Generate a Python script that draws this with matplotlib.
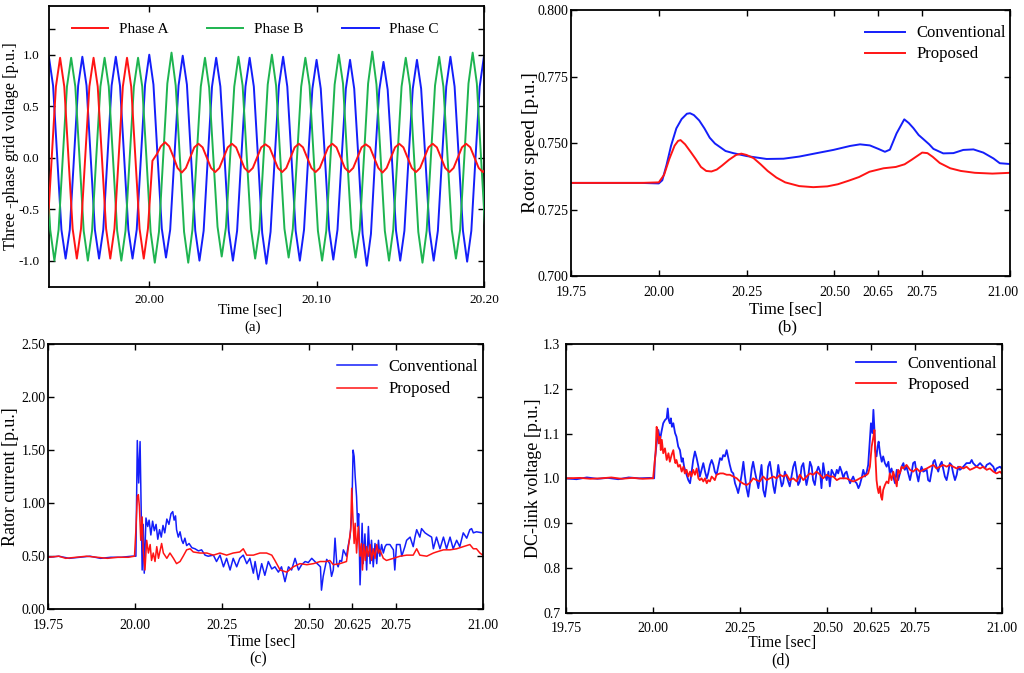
import numpy as np
import matplotlib
matplotlib.use("Agg")
import matplotlib.pyplot as plt
import matplotlib.transforms as mtransforms

plt.rcParams['font.family'] = ['Liberation Serif', 'DejaVu Serif']

# ---------------- (a) three-phase grid voltage, sampled every 2.5 ms ----------------
step_a = 0.0025
phase_a_pre_t0 = 19.9391
phase_a_pre = [-0.69, 0, 0.69, 0.97, 0.69, 0, -0.69, -0.98,
               -0.69, 0, 0.69, 0.97, 0.69, 0, -0.69, -0.98,
               -0.69, 0, 0.69, 0.97, 0.69, 0, -0.69, -0.98, -0.69]
phase_a_post_t0 = 20.0018
phase_a_post = [-0.03, 0.03, 0.11, 0.15, 0.11, 0.01, -0.10, -0.145,
                -0.10, 0, 0.10, 0.135, 0.10, 0, -0.10, -0.14,
                -0.10, 0, 0.10, 0.135, 0.10, 0, -0.10, -0.14,
                -0.10, 0, 0.10, 0.13, 0.10, 0, -0.10, -0.14,
                -0.10, 0, 0.10, 0.135, 0.10, 0, -0.10, -0.14,
                -0.10, 0, 0.10, 0.135, 0.10, 0, -0.10, -0.14,
                -0.10, 0, 0.10, 0.13, 0.10, 0, -0.10, -0.145,
                -0.10, 0, 0.10, 0.135, 0.10, 0, -0.10, -0.14,
                -0.10, 0, 0.10, 0.135, 0.10, 0, -0.10, -0.14,
                -0.10, 0, 0.10, 0.135, 0.10, 0, -0.10, -0.14,
                -0.10]
phase_b_t0 = 19.9382
phase_b = [0, -0.70, -1.00, -0.70, 0, 0.69, 0.97, 0.69,
           0, -0.71, -1.00, -0.71, 0, 0.69, 0.97, 0.69,
           0, -0.71, -1.00, -0.71, 0, 0.69, 0.97, 0.69,
           0, -0.72, -1.02, -0.72, 0, 0.72, 1.02, 0.70,
           0, -0.72, -1.02, -0.70, 0, 0.69, 0.97, 0.68,
           0, -0.67, -0.96, -0.68, 0, 0.69, 0.98, 0.70,
           0, -0.69, -0.98, -0.70, 0, 0.71, 1.00, 0.70,
           0, -0.69, -0.97, -0.69, 0, 0.69, 0.97, 0.70,
           0, -0.71, -1.00, -0.71, 0, 0.71, 1.00, 0.72,
           0, -0.69, -0.97, -0.70, 0, 0.72, 1.03, 0.71,
           0, -0.71, -1.00, -0.70, 0, 0.69, 0.97, 0.70,
           0, -0.72, -1.02, -0.71, 0, 0.70, 0.98, 0.69,
           0, -0.70, -0.98, -0.70, 0, 0.72, 1.02, 0.72,
           0, -0.70]
phase_c_t0 = 19.9374
phase_c = [0.70, 0.98, 0.70, 0, -0.70, -0.98, -0.70, 0,
           0.70, 0.98, 0.70, 0, -0.70, -0.98, -0.70, 0,
           0.70, 0.98, 0.70, 0, -0.70, -0.98, -0.70, 0,
           0.71, 1.00, 0.71, 0, -0.69, -0.97, -0.70, 0,
           0.70, 0.99, 0.71, 0, -0.71, -1.00, -0.71, 0,
           0.69, 0.97, 0.69, 0, -0.71, -1.00, -0.71, 0,
           0.69, 0.97, 0.69, 0, -0.73, -1.03, -0.72, 0,
           0.70, 0.98, 0.69, 0, -0.71, -1.00, -0.70, 0,
           0.67, 0.95, 0.67, 0, -0.70, -0.99, -0.70, 0,
           0.67, 0.95, 0.67, 0, -0.74, -1.05, -0.74, 0,
           0.66, 0.93, 0.66, 0, -0.71, -1.00, -0.71, 0,
           0.67, 0.95, 0.67, 0, -0.71, -1.00, -0.71, 0,
           0.69, 0.98, 0.69, 0, -0.71, -1.01, -0.71, 0,
           0.69, 0.98, 0.69]

# ---------------- (b) rotor speed ----------------
speed_conv_t = [19.75, 19.85, 19.95, 20.0, 20.01, 20.022, 20.035, 20.05, 20.065, 20.08, 20.089,
                20.10, 20.115, 20.13, 20.145, 20.16, 20.174, 20.19, 20.212, 20.25, 20.307,
                20.355, 20.40, 20.45, 20.497, 20.545, 20.573, 20.601, 20.625, 20.644, 20.658,
                20.677, 20.699, 20.712, 20.725, 20.74, 20.753, 20.77, 20.782, 20.81, 20.839,
                20.867, 20.896, 20.924, 20.953, 20.971, 21.0]
speed_conv = [0.735, 0.735, 0.735, 0.7348, 0.736, 0.7417, 0.749, 0.7555, 0.759, 0.761, 0.7612,
              0.7605, 0.7585, 0.7555, 0.752, 0.7498, 0.7485, 0.747, 0.7462, 0.7451, 0.744,
              0.7441, 0.7449, 0.7462, 0.7474, 0.7489, 0.7495, 0.7491, 0.7478, 0.7467, 0.7475,
              0.7536, 0.7589, 0.7575, 0.7556, 0.7530, 0.7515, 0.7495, 0.7478, 0.7461, 0.7462,
              0.7474, 0.7476, 0.7464, 0.7442, 0.7424, 0.7421]
speed_prop_t = [19.75, 19.85, 19.95, 20.0, 20.015, 20.03, 20.045, 20.055, 20.062, 20.075, 20.09,
                20.105, 20.12, 20.135, 20.15, 20.165, 20.18, 20.20, 20.22, 20.235, 20.25,
                20.27, 20.29, 20.31, 20.335, 20.36, 20.40, 20.44, 20.48, 20.51, 20.54, 20.57,
                20.60, 20.64, 20.675, 20.70, 20.72, 20.75, 20.765, 20.78, 20.80, 20.83, 20.86,
                20.90, 20.95, 21.0]
speed_prop = [0.735, 0.735, 0.735, 0.7352, 0.738, 0.7440, 0.7490, 0.7508, 0.7511, 0.7495, 0.7468,
              0.7440, 0.7410, 0.7395, 0.7393, 0.7400, 0.7415, 0.7437, 0.7455, 0.7460, 0.7455,
              0.7443, 0.7420, 0.7395, 0.7370, 0.7352, 0.7338, 0.7334, 0.7337, 0.7345, 0.7358, 0.7372,
              0.7392, 0.7405, 0.7410, 0.7420, 0.7437, 0.7464, 0.7462, 0.7448, 0.7425, 0.7405, 0.7395,
              0.7388, 0.7385, 0.7388]

# ---------------- (c) rotor current ----------------
cur_conv_t = [19.75, 19.78, 19.81, 19.84, 19.87, 19.90, 19.93, 19.96, 19.99, 20.002,
              20.006, 20.010, 20.014, 20.017, 20.020, 20.023, 20.026, 20.031, 20.036, 20.040,
              20.045, 20.050, 20.055, 20.060, 20.065, 20.070, 20.075, 20.080, 20.085, 20.091,
              20.097, 20.103, 20.108, 20.112, 20.116, 20.119, 20.124, 20.129, 20.134, 20.138,
              20.143, 20.148, 20.155, 20.163, 20.172, 20.182, 20.191, 20.201, 20.210, 20.225,
              20.234, 20.244, 20.254, 20.263, 20.273, 20.282, 20.292, 20.301, 20.311, 20.321,
              20.330, 20.340, 20.345, 20.354, 20.364, 20.373, 20.383, 20.393, 20.402, 20.412,
              20.421, 20.431, 20.441, 20.450, 20.460, 20.470, 20.479, 20.489, 20.498, 20.508,
              20.517, 20.527, 20.533, 20.536, 20.541, 20.551, 20.560, 20.565, 20.570, 20.575,
              20.580, 20.584, 20.589, 20.594, 20.599, 20.608, 20.613, 20.618, 20.623, 20.627,
              20.630, 20.633, 20.637, 20.640, 20.643, 20.647, 20.650, 20.653, 20.656, 20.661,
              20.666, 20.671, 20.676, 20.680, 20.685, 20.690, 20.695, 20.700, 20.704, 20.709,
              20.714, 20.719, 20.723, 20.733, 20.743, 20.747, 20.752, 20.762, 20.767, 20.776,
              20.781, 20.791, 20.800, 20.805, 20.810, 20.819, 20.824, 20.834, 20.843, 20.853,
              20.858, 20.867, 20.877, 20.887, 20.896, 20.906, 20.915, 20.925, 20.934, 20.944,
              20.954, 20.963, 20.968, 20.973, 20.982, 21.0]
cur_conv = [0.49, 0.50, 0.48, 0.49, 0.50, 0.48, 0.49, 0.49, 0.50, 0.50,
            1.59, 1.19, 1.58, 1.00, 0.37, 0.80, 0.34, 0.86, 0.78, 0.84,
            0.70, 0.83, 0.74, 0.80, 0.66, 0.75, 0.68, 0.79, 0.72, 0.85,
            0.80, 0.90, 0.92, 0.84, 0.88, 0.75, 0.68, 0.73, 0.65, 0.62,
            0.67, 0.60, 0.62, 0.58, 0.57, 0.55, 0.56, 0.51, 0.50, 0.51,
            0.45, 0.51, 0.40, 0.48, 0.37, 0.48, 0.40, 0.48, 0.51, 0.43,
            0.48, 0.34, 0.45, 0.28, 0.43, 0.32, 0.45, 0.38, 0.40, 0.35,
            0.40, 0.26, 0.40, 0.37, 0.48, 0.37, 0.42, 0.45, 0.44, 0.48,
            0.45, 0.42, 0.40, 0.18, 0.31, 0.47, 0.43, 0.31, 0.37, 0.67,
            0.43, 0.40, 0.46, 0.45, 0.56, 0.50, 0.60, 0.68, 0.87, 1.50,
            1.44, 1.25, 1.06, 0.78, 0.90, 0.23, 0.50, 0.81, 0.43, 0.71,
            0.37, 0.78, 0.43, 0.65, 0.40, 0.62, 0.43, 0.65, 0.50, 0.61,
            0.53, 0.59, 0.61, 0.61, 0.56, 0.37, 0.61, 0.61, 0.50, 0.59,
            0.65, 0.68, 0.59, 0.68, 0.75, 0.68, 0.76, 0.72, 0.70, 0.68,
            0.57, 0.68, 0.57, 0.68, 0.57, 0.68, 0.57, 0.65, 0.59, 0.72,
            0.67, 0.75, 0.76, 0.72, 0.73, 0.72]
cur_prop_t = [19.75, 19.78, 19.80, 19.83, 19.86, 19.89, 19.92, 19.95, 19.98, 19.998,
              20.002, 20.006, 20.009, 20.012, 20.016, 20.020, 20.023, 20.028, 20.033, 20.038,
              20.043, 20.047, 20.052, 20.057, 20.062, 20.067, 20.076, 20.081, 20.091, 20.100,
              20.110, 20.119, 20.129, 20.138, 20.148, 20.158, 20.167, 20.186, 20.206, 20.225,
              20.244, 20.263, 20.282, 20.301, 20.311, 20.321, 20.340, 20.359, 20.378, 20.393,
              20.402, 20.417, 20.436, 20.455, 20.474, 20.494, 20.513, 20.532, 20.551, 20.560,
              20.570, 20.589, 20.608, 20.616, 20.620, 20.623, 20.626, 20.630, 20.633, 20.637,
              20.642, 20.647, 20.651, 20.654, 20.658, 20.662, 20.666, 20.671, 20.676, 20.680,
              20.685, 20.690, 20.695, 20.700, 20.704, 20.714, 20.723, 20.743, 20.762, 20.781,
              20.800, 20.810, 20.819, 20.839, 20.858, 20.867, 20.887, 20.906, 20.925, 20.944,
              20.963, 20.973, 20.982, 20.992, 21.0]
cur_prop = [0.49, 0.50, 0.48, 0.49, 0.50, 0.49, 0.48, 0.49, 0.49, 0.50,
            0.75, 1.06, 1.08, 0.97, 0.65, 0.87, 0.56, 0.37, 0.65, 0.53,
            0.61, 0.46, 0.53, 0.45, 0.59, 0.48, 0.62, 0.53, 0.48, 0.53,
            0.48, 0.43, 0.45, 0.50, 0.56, 0.57, 0.54, 0.53, 0.53, 0.51,
            0.53, 0.51, 0.53, 0.54, 0.57, 0.51, 0.51, 0.53, 0.53, 0.51,
            0.46, 0.37, 0.35, 0.40, 0.43, 0.42, 0.43, 0.45, 0.45, 0.46,
            0.42, 0.43, 0.45, 0.65, 0.75, 1.14, 0.90, 0.62, 0.81, 0.53,
            0.78, 0.50, 0.62, 0.37, 0.61, 0.46, 0.59, 0.50, 0.61, 0.46,
            0.57, 0.48, 0.61, 0.53, 0.56, 0.48, 0.46, 0.48, 0.50, 0.51,
            0.51, 0.57, 0.51, 0.50, 0.53, 0.54, 0.56, 0.56, 0.57, 0.59,
            0.61, 0.57, 0.57, 0.53, 0.51]

# ---------------- (d) DC-link voltage ----------------
dc_conv_t = [19.75, 19.78, 19.81, 19.84, 19.87, 19.90, 19.93, 19.96, 19.99, 20.003,
             20.005, 20.010, 20.015, 20.020, 20.024, 20.029, 20.034, 20.039, 20.042, 20.045,
             20.048, 20.051, 20.054, 20.058, 20.063, 20.067, 20.072, 20.077, 20.082, 20.085,
             20.089, 20.096, 20.101, 20.106, 20.110, 20.115, 20.120, 20.125, 20.130, 20.134,
             20.139, 20.144, 20.149, 20.154, 20.158, 20.163, 20.168, 20.173, 20.177, 20.182,
             20.187, 20.192, 20.197, 20.201, 20.206, 20.211, 20.216, 20.220, 20.225, 20.230,
             20.235, 20.240, 20.244, 20.249, 20.254, 20.259, 20.263, 20.268, 20.273, 20.278,
             20.283, 20.287, 20.292, 20.297, 20.302, 20.306, 20.311, 20.316, 20.321, 20.326,
             20.330, 20.335, 20.340, 20.345, 20.349, 20.354, 20.359, 20.364, 20.369, 20.373,
             20.378, 20.383, 20.392, 20.402, 20.407, 20.412, 20.416, 20.421, 20.426, 20.431,
             20.436, 20.440, 20.445, 20.450, 20.455, 20.459, 20.464, 20.469, 20.474, 20.479,
             20.483, 20.488, 20.493, 20.498, 20.503, 20.507, 20.512, 20.517, 20.522, 20.527,
             20.531, 20.536, 20.541, 20.546, 20.550, 20.555, 20.560, 20.565, 20.569, 20.574,
             20.579, 20.584, 20.589, 20.593, 20.598, 20.603, 20.608, 20.613, 20.617, 20.622,
             20.625, 20.629, 20.632, 20.635, 20.637, 20.641, 20.644, 20.647, 20.651, 20.656,
             20.660, 20.665, 20.670, 20.675, 20.679, 20.684, 20.689, 20.694, 20.699, 20.703,
             20.708, 20.713, 20.718, 20.722, 20.727, 20.732, 20.737, 20.742, 20.746, 20.751,
             20.756, 20.761, 20.765, 20.770, 20.775, 20.785, 20.789, 20.794, 20.799, 20.804,
             20.808, 20.813, 20.818, 20.823, 20.828, 20.832, 20.837, 20.842, 20.847, 20.851,
             20.856, 20.861, 20.866, 20.871, 20.875, 20.880, 20.885, 20.890, 20.899, 20.909,
             20.914, 20.918, 20.928, 20.933, 20.938, 20.947, 20.952, 20.957, 20.966, 20.976,
             20.981, 20.985, 20.995, 21.0]
dc_conv = [1.000, 0.998, 1.002, 0.999, 1.001, 0.998, 1.002, 1.000, 1.001, 1.000,
           1.040, 1.078, 1.108, 1.086, 1.104, 1.123, 1.130, 1.134, 1.156, 1.130,
           1.123, 1.134, 1.115, 1.123, 1.101, 1.093, 1.071, 1.063, 1.037, 1.045,
           1.026, 1.008, 0.996, 0.989, 1.011, 1.041, 1.060, 1.045, 1.026, 1.004,
           1.019, 1.034, 1.015, 1.000, 1.011, 1.030, 1.041, 1.030, 1.015, 1.008,
           1.026, 1.045, 1.041, 1.052, 1.049, 1.063, 1.045, 1.030, 1.015, 1.011,
           0.989, 0.978, 0.967, 0.985, 1.008, 1.037, 1.008, 0.978, 0.959, 0.989,
           1.022, 1.037, 1.015, 0.996, 0.978, 1.000, 1.030, 0.974, 0.959, 0.989,
           1.026, 1.037, 1.011, 0.982, 0.967, 0.996, 1.030, 1.004, 0.982, 0.989,
           1.015, 1.004, 0.982, 1.026, 1.037, 1.011, 0.985, 0.993, 1.026, 1.034,
           1.004, 0.985, 1.004, 1.037, 1.026, 0.996, 0.985, 1.015, 1.026, 1.015,
           0.978, 1.034, 1.008, 0.996, 1.015, 0.982, 1.019, 1.011, 1.004, 1.019,
           1.011, 1.026, 1.015, 1.000, 1.011, 1.015, 1.000, 0.989, 0.996, 1.004,
           0.993, 0.989, 0.978, 0.985, 1.000, 1.019, 1.004, 1.015, 1.030, 1.086,
           1.123, 1.101, 1.153, 1.108, 1.063, 1.049, 1.071, 1.082, 1.056, 1.037,
           1.049, 1.034, 1.026, 1.037, 1.011, 1.022, 1.004, 0.989, 1.019, 0.996,
           1.011, 1.026, 1.034, 1.019, 1.026, 1.011, 0.996, 1.015, 1.034, 1.037,
           1.011, 0.993, 1.011, 1.026, 1.015, 1.019, 0.996, 0.993, 1.015, 1.037,
           1.041, 1.026, 1.015, 1.030, 1.037, 1.022, 1.004, 0.996, 1.015, 1.034,
           1.030, 1.011, 0.996, 1.008, 1.026, 1.019, 1.022, 1.026, 1.034, 1.034,
           1.041, 1.034, 1.026, 1.030, 1.034, 1.026, 1.022, 1.030, 1.034, 1.026,
           1.015, 1.022, 1.026, 1.022]
dc_prop_t = [19.75, 19.79, 19.82, 19.85, 19.88, 19.91, 19.94, 19.97, 20.0, 20.007,
             20.010, 20.013, 20.016, 20.020, 20.022, 20.025, 20.029, 20.034, 20.039, 20.044,
             20.048, 20.053, 20.058, 20.061, 20.064, 20.067, 20.072, 20.077, 20.082, 20.087,
             20.091, 20.096, 20.101, 20.106, 20.110, 20.115, 20.120, 20.125, 20.130, 20.134,
             20.139, 20.144, 20.149, 20.154, 20.158, 20.163, 20.168, 20.173, 20.177, 20.182,
             20.192, 20.201, 20.211, 20.220, 20.230, 20.240, 20.249, 20.259, 20.268, 20.278,
             20.287, 20.297, 20.306, 20.316, 20.326, 20.335, 20.345, 20.354, 20.364, 20.373,
             20.383, 20.392, 20.402, 20.412, 20.421, 20.431, 20.440, 20.450, 20.459, 20.469,
             20.479, 20.488, 20.498, 20.507, 20.517, 20.527, 20.536, 20.546, 20.555, 20.565,
             20.574, 20.584, 20.593, 20.603, 20.613, 20.617, 20.622, 20.627, 20.632, 20.635,
             20.637, 20.641, 20.644, 20.647, 20.651, 20.654, 20.657, 20.660, 20.665, 20.670,
             20.675, 20.679, 20.684, 20.689, 20.694, 20.699, 20.703, 20.708, 20.713, 20.718,
             20.727, 20.737, 20.746, 20.756, 20.765, 20.775, 20.785, 20.794, 20.804, 20.813,
             20.823, 20.832, 20.842, 20.851, 20.861, 20.871, 20.880, 20.890, 20.899, 20.909,
             20.918, 20.928, 20.938, 20.947, 20.957, 20.966, 20.976, 20.985, 20.995, 21.0]
dc_prop = [1.000, 1.001, 0.999, 1.000, 1.002, 0.999, 1.001, 0.999, 1.000, 1.056,
           1.115, 1.108, 1.078, 1.093, 1.063, 1.086, 1.056, 1.067, 1.041, 1.056,
           1.037, 1.052, 1.063, 1.045, 1.034, 1.041, 1.026, 1.030, 1.015, 1.026,
           1.011, 1.019, 1.004, 1.015, 1.004, 1.019, 1.008, 1.022, 1.000, 0.996,
           1.000, 0.993, 1.000, 0.989, 0.996, 0.993, 1.004, 1.000, 0.996, 1.008,
           1.011, 1.011, 1.008, 1.008, 1.004, 1.000, 0.993, 0.988, 0.985, 0.990,
           1.000, 0.996, 0.993, 1.004, 0.996, 1.000, 1.004, 1.000, 1.008, 1.004,
           1.008, 0.996, 1.000, 0.993, 1.008, 0.996, 1.004, 1.011, 1.008, 1.015,
           1.008, 1.000, 1.008, 1.004, 1.004, 0.996, 1.000, 1.000, 1.000, 0.996,
           0.993, 0.996, 1.000, 1.004, 1.008, 1.011, 1.026, 1.071, 1.093, 1.108,
           1.063, 0.996, 0.978, 0.967, 0.982, 0.959, 0.952, 0.974, 0.985, 0.993,
           0.989, 1.011, 0.996, 1.015, 1.000, 0.982, 1.019, 1.011, 1.026, 1.022,
           1.030, 1.019, 1.015, 1.022, 1.015, 1.019, 1.022, 1.026, 1.030, 1.022,
           1.026, 1.030, 1.026, 1.030, 1.026, 1.022, 1.026, 1.022, 1.026, 1.019,
           1.022, 1.026, 1.022, 1.026, 1.019, 1.022, 1.015, 1.011, 1.015, 1.011]

time_ticks = [19.75, 20.0, 20.25, 20.5, 20.625, 20.75, 21.0]
time_labels_b = ['19.75', '20.00', '20.25', '20.50', '20.65', '20.75', '21.00']
time_labels_cd = ['19.75', '20.00', '20.25', '20.50', '20.625', '20.75', '21.00']

RED = '#ff1414'
GREEN = '#1eb450'
BLUE = '#141efa'


def style_axes(ax, size, xpad, ypad):
    ax.tick_params(direction='in', top=True, right=True, length=4, width=1,
                   labelsize=size)
    ax.tick_params(axis='x', pad=xpad)
    ax.tick_params(axis='y', pad=ypad)
    for sp in ax.spines.values():
        sp.set_linewidth(1.3)


def add_labels(ax, ylabel, tag, ysize, xsize, ylab_x, xlab_pos, tag_pos):
    ax.set_ylabel(ylabel, fontsize=ysize)
    ax.yaxis.set_label_coords(ylab_x, 0.5)
    ax.text(xlab_pos[0], xlab_pos[1], 'Time [sec]', transform=ax.transAxes,
            ha='center', va='center', fontsize=xsize)
    ax.text(tag_pos[0], tag_pos[1], tag, transform=ax.transAxes,
            ha='center', va='center', fontsize=xsize)


def add_legend(ax, anchor, size=12, spacing=0.3):
    ax.legend(loc='upper right', bbox_to_anchor=anchor, frameon=False,
              fontsize=size, handlelength=2.4, handletextpad=0.7, labelspacing=spacing,
              borderaxespad=0.3)


fig = plt.figure(figsize=(10.24, 6.73), dpi=100)

# (a)
ax_a = fig.add_axes([0.0479, 0.5735, 0.4248, 0.4175])
ta_pre = phase_a_pre_t0 + step_a * np.arange(len(phase_a_pre))
ta_post = phase_a_post_t0 + step_a * np.arange(len(phase_a_post))
tb = phase_b_t0 + step_a * np.arange(len(phase_b))
tc = phase_c_t0 + step_a * np.arange(len(phase_c))
ax_a.plot(tc, phase_c, color=BLUE, lw=1.4, label='Phase C', zorder=2)
ax_a.plot(tb, phase_b, color=GREEN, lw=1.4, label='Phase B', zorder=3)
ax_a.plot(np.concatenate([ta_pre, ta_post]), phase_a_pre + phase_a_post,
          color=RED, lw=1.4, label='Phase A', zorder=4)
ax_a.set_xlim(19.94, 20.20)
ax_a.set_ylim(-1.256, 1.472)
ax_a.set_xticks([20.0, 20.1, 20.2])
ax_a.set_xticklabels(['20.00', '20.10', '20.20'])
ax_a.set_yticks([-1.0, -0.5, 0.0, 0.5, 1.0, 1.25])
ax_a.set_yticklabels(['-1.0', '-0.5', '0.0', '0.5', '1.0', ''])
style_axes(ax_a, 9.5, 5, 7)
h, l = ax_a.get_legend_handles_labels()
ax_a.legend(h[::-1], l[::-1], loc='center', bbox_to_anchor=(0.474, 0.918), ncol=3,
            frameon=False, fontsize=11, handlelength=2.4, handletextpad=0.7,
            columnspacing=2.5)
add_labels(ax_a, 'Three -phase grid voltage [p.u.]', '(a)', 11.8, 10.8, -0.069,
           (0.462, -0.083), (0.467, -0.143))

# (b)
ax_b = fig.add_axes([0.5576, 0.5899, 0.4287, 0.3952])
ax_b.plot(speed_conv_t, speed_conv, color=BLUE, lw=1.4, label='Conventional')
ax_b.plot(speed_prop_t, speed_prop, color=RED, lw=1.4, label='Proposed')
ax_b.set_xlim(19.75, 21.0)
ax_b.set_ylim(0.70, 0.80)
ax_b.set_xticks(time_ticks)
ax_b.set_xticklabels(time_labels_b)
ax_b.set_yticks([0.700, 0.725, 0.750, 0.775, 0.800])
ax_b.set_yticklabels(['0.700', '0.725', '0.750', '0.775', '0.800'])
style_axes(ax_b, 10, 7, 2)
last = ax_b.get_xticklabels()[-1]
last.set_transform(last.get_transform()
                   + mtransforms.ScaledTranslation(-0.07, 0, fig.dpi_scale_trans))
add_legend(ax_b, (1.018, 0.986))
add_labels(ax_b, 'Rotor speed [p.u.]', '(b)', 14, 12.3, -0.073, (0.488, -0.128), (0.492, -0.195))

# (c)
ax_c = fig.add_axes([0.0472, 0.0947, 0.4242, 0.3942])
ax_c.plot(cur_conv_t, cur_conv, color=BLUE, lw=1.1, label='Conventional')
ax_c.plot(cur_prop_t, cur_prop, color=RED, lw=1.1, label='Proposed')
ax_c.set_xlim(19.75, 21.0)
ax_c.set_ylim(0.0, 2.5)
ax_c.set_xticks(time_ticks)
ax_c.set_xticklabels(time_labels_cd)
ax_c.set_yticks([0.0, 0.5, 1.0, 1.5, 2.0, 2.5])
ax_c.set_yticklabels(['0.00', '0.50', '1.00', '1.50', '2.00', '2.50'])
style_axes(ax_c, 10, 7, 2)
add_legend(ax_c, (1.016, 0.988), spacing=0.4)
add_labels(ax_c, 'Rator current [p.u.]', '(c)', 13, 11.3, -0.067, (0.492, -0.123), (0.483, -0.19))

# (d)
ax_d = fig.add_axes([0.5527, 0.0896, 0.4255, 0.3993])
ax_d.plot(dc_conv_t, dc_conv, color=BLUE, lw=1.3, label='Conventional')
ax_d.plot(dc_prop_t, dc_prop, color=RED, lw=1.3, label='Proposed')
ax_d.set_xlim(19.75, 21.0)
ax_d.set_ylim(0.7, 1.3)
ax_d.set_xticks(time_ticks)
ax_d.set_xticklabels(time_labels_cd)
ax_d.set_yticks([0.7, 0.8, 0.9, 1.0, 1.1, 1.2, 1.3])
ax_d.set_yticklabels(['0.7', '0.8', '0.9', '1.0', '1.1', '1.2', '1.3'])
style_axes(ax_d, 10, 7, 4)
add_legend(ax_d, (1.016, 0.998))
add_labels(ax_d, 'DC-link voltage [p.u.]', '(d)', 13, 11.5, -0.055, (0.497, -0.113), (0.492, -0.176))

fig.savefig('out.png', dpi=100)
